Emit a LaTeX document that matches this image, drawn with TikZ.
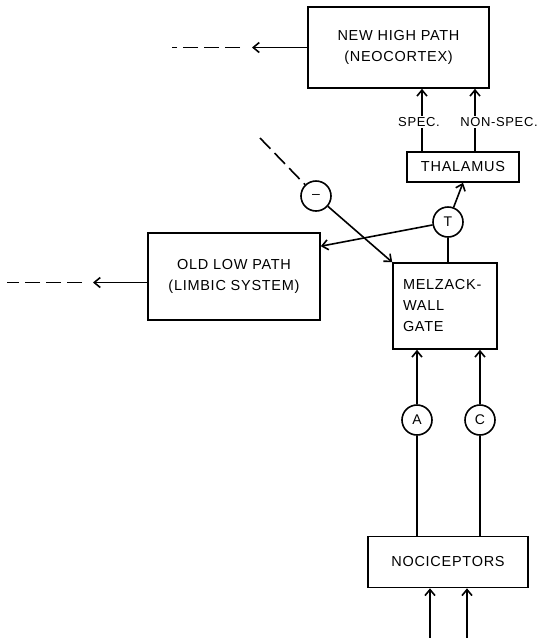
\documentclass[tikz,border=0pt]{standalone}
\usepackage{fontspec}
\setmainfont{Liberation Sans}[LetterSpace=5]
\usetikzlibrary{arrows.meta,calc}
\begin{document}
\begin{tikzpicture}[x=1pt,y=-1pt, line width=1.6pt,
  box/.style={draw, line width=1.6pt, inner sep=0pt, align=center, font=\fontsize{14.5}{21}\selectfont},
  sig/.style={draw, circle, minimum size=30pt, inner sep=0pt, font=\fontsize{14}{14}\selectfont},
  arr/.style={-{Straight Barb[length=6pt,width=10pt]}},
  lead/.style={dash pattern=on 15pt off 6pt},
  lbl/.style={inner sep=1pt, font=\fontsize{13}{13}\selectfont}]
\useasboundingbox (0,0) rectangle (539,638);
% boxes
\node[box, minimum width=181pt, minimum height=81pt] (high) at (398.5,47.5) {NEW HIGH PATH\\(NEOCORTEX)};
\node[box, minimum width=112pt, minimum height=30pt] (thal) at (463,167) {THALAMUS};
\node[box, minimum width=172pt, minimum height=87pt] (old) at (234,276.5) {OLD LOW PATH\\(LIMBIC SYSTEM)};
\node[box, inner xsep=10pt, text width=84pt, minimum height=86pt, align=left] (gate) at (445,306) {MELZACK-\\WALL\\GATE};
\node[box, minimum width=160pt, minimum height=51pt] (noci) at (448,562) {NOCICEPTORS};
% signal circles
\node[sig] (minus) at (316,196) {\textendash};
\node[sig] (T) at (448,222) {T};
\node[sig] (A) at (417,420) {A};
\node[sig] (C) at (480,420) {C};
% labels
\node[lbl] (spec) at (419,122) {SPEC.};
\node[lbl] (nspec) at (499,122) {NON-SPEC.};
% coordinates
\coordinate (sx) at (422,0);
\coordinate (nx) at (475,0);
\coordinate (oldin) at ($(old.north east)+(0,14)$);
\coordinate (mstart) at (260,138);
\coordinate (i1) at (430,638);
\coordinate (i2) at (467,638);
\coordinate (h1) at (252,47.5);
\coordinate (h2) at (240,47.5);
\coordinate (h3) at (172,47.5);
\coordinate (o0) at ($(old.west)+(0,6)$);
\coordinate (o1) at (93,282.5);
\coordinate (o2) at (82,282.5);
\coordinate (o3) at (7,282.5);
% connectors
\draw[arr] (spec.north -| sx) -- (high.south -| sx);
\draw (thal.north -| sx) -- (spec.south -| sx);
\draw[arr] (nspec.north -| nx) -- (high.south -| nx);
\draw (thal.north -| nx) -- (nspec.south -| nx);
\draw[arr] (T) -- (thal.south);
\draw (T) -- (gate.north -| T);
\draw[arr] (T) -- (oldin);
\draw[lead] (mstart) -- (minus);
\draw[arr] (minus) -- (gate.north west);
\draw (A |- noci.north) -- (A);
\draw[arr] (A) -- (A |- gate.south);
\draw (C |- noci.north) -- (C);
\draw[arr] (C) -- (C |- gate.south);
\draw[arr] (i1) -- (i1 |- noci.south);
\draw[arr] (i2) -- (i2 |- noci.south);
\draw[arr] (high.west) -- (h1);
\draw[lead] (h2) -- (h3);
\draw[arr] (o0) -- (o1);
\draw[lead] (o2) -- (o3);
\end{tikzpicture}
\end{document}
